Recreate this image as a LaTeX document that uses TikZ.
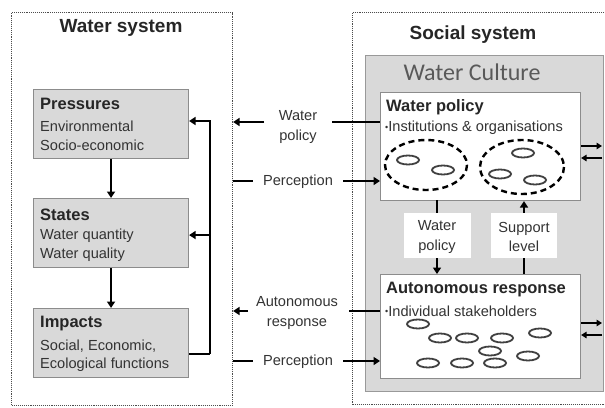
\documentclass[tikz,border=0pt]{standalone}
\usepackage{fontspec}
\setmainfont{Liberation Sans}
\newfontfamily\culturefont{Carlito}
\usetikzlibrary{arrows.meta}
\definecolor{boxgray}{HTML}{D9D9D9}
\definecolor{edgegray}{HTML}{8C8C8C}
\definecolor{textgray}{HTML}{333333}
\begin{document}
\begin{tikzpicture}[x=1pt,y=-1pt,
  frame/.style={draw=black!70, densely dotted, line width=1.1pt, anchor=north west, inner sep=0},
  dpsbox/.style={draw=edgegray, fill=boxgray, line width=1.1pt, anchor=north west, inner sep=0,
                 minimum width=155, minimum height=69},
  whitebox/.style={draw=edgegray, fill=white, line width=1.1pt, anchor=north west, inner sep=0,
                 minimum width=200},
  title/.style={font=\fontsize{19}{22}\selectfont\bfseries, text=black!85, inner sep=0},
  head/.style={font=\fontsize{16.5}{19}\selectfont\bfseries, text=black!85, anchor=west, inner sep=0},
  body/.style={font=\fontsize{14.6}{17}\selectfont, text=textgray, anchor=west, inner sep=0},
  lbl/.style={font=\fontsize{14.6}{19.5}\selectfont, text=textgray, align=center, inner sep=0},
  flow/.style={line width=2.6pt, -{Triangle[length=6.5pt,width=8pt]}},
  plain/.style={line width=2.6pt},
  side/.style={line width=1.9pt, -{Triangle[length=5.5pt,width=6.5pt]}},
  actor/.style={draw=black!75, line width=1.8pt, x radius=11, y radius=4.5},
  group/.style={draw=black, line width=2.4pt, dash pattern=on 6pt off 4pt}
]
\useasboundingbox (0,0) rectangle (605,407);

% ---- water system (DPSIR chain) ----
\node[frame, minimum width=221, minimum height=393] (wsys) at (11,12) {};
\node[title] (wsys-t) at (121,28) {Water system};

\node[dpsbox] (press) at (33,89) {};
\node[head] (press-h) at (40,104) {Pressures};
\node[body] (press-a) at (40,126) {Environmental};
\node[body] (press-b) at (40,145) {Socio-economic};

\node[dpsbox] (state) at (33,198) {};
\node[head] (state-h) at (40,215) {States};
\node[body] (state-a) at (40,236) {Water quantity};
\node[body] (state-b) at (40,255) {Water quality};

\node[dpsbox] (impact) at (33,308) {};
\node[head] (impact-h) at (40,324) {Impacts};
\node[body] (impact-a) at (40,346) {Social, Economic,};
\node[body] (impact-b) at (40,365) {Ecological functions};

\draw[flow] (press.south) -- (state.north);
\draw[flow] (state.south) -- (impact.north);

% feedback from impacts to pressures and states
\coordinate (fb-bot) at (210,354);
\coordinate (fb-top) at (210,121);
\draw[plain] (impact.east |- fb-bot) -- (fb-bot);
\draw[flow] (fb-bot) -- (fb-top) -- (fb-top -| press.east);
\draw[flow] (fb-top |- state.center) ++(0,2) coordinate (fb-mid) -- (fb-mid -| state.east);

% ---- social system ----
\node[frame, minimum width=270, minimum height=392] (ssys) at (352,12) {};
\node[title] (ssys-t) at (473,35) {Social system};

\node[draw=black!40, fill=boxgray, line width=1.1pt, anchor=north west, inner sep=0,
      minimum width=238, minimum height=336] (cult) at (365,55) {};
\node[font=\culturefont\fontsize{24}{27}\selectfont, text=black!65, inner sep=0] (cult-t) at (472,72) {Water Culture};

% water policy
\node[whitebox, minimum height=108] (wp) at (380,92) {};
\node[head] (wp-h) at (386,107) {Water policy};
\node[body] (wp-b) at (385,128) {\fontsize{9}{10}\selectfont\raisebox{1.6pt}{•}\fontsize{14.6}{17}\selectfont Institutions \& organisations};
\draw[group] (426,165) ellipse[x radius=41, y radius=25];
\draw[group] (522,167) ellipse[x radius=42, y radius=27];
\draw[actor] (408,160) ellipse[];
\draw[actor] (443,170) ellipse[];
\draw[actor] (523,153) ellipse[];
\draw[actor] (500,174) ellipse[];
\draw[actor] (535,180) ellipse[];

% autonomous response
\node[whitebox, minimum height=104] (ar) at (380,274) {};
\node[head] (ar-h) at (386,290) {Autonomous response};
\node[body] (ar-b) at (385,311) {\fontsize{9}{10}\selectfont\raisebox{1.6pt}{•}\fontsize{14.6}{17}\selectfont Individual stakeholders};
\foreach \px/\py in {418/324, 440/338, 467/338, 502/338, 540/333, 490/351,
                      428/363, 462/363, 495/363, 528/356}
  \draw[actor] (\px,\py) ellipse[];

% links inside the water culture
\coordinate (wp-down) at (437,200);
\coordinate (sl-up) at (524,274);
\draw[flow] (wp-down) -- (wp-down |- ar.north);
\draw[flow] (sl-up) -- (sl-up |- wp.south);
\node[fill=white, minimum width=67, minimum height=45, inner sep=0] (mid-wp) at (437,235) {};
\node[lbl] (mid-wp-t) at (437,237) {Water\\policy};
\node[fill=white, minimum width=66, minimum height=45, inner sep=0] (mid-sl) at (524,235) {};
\node[lbl] (mid-sl-t) at (524,237) {Support\\level};

% exchanges with other water cultures
\coordinate (out-a) at (602,146);
\coordinate (in-a) at (602,158);
\coordinate (out-b) at (602,323);
\coordinate (in-b) at (602,335);
\draw[side] (out-a -| wp.east) -- (out-a);
\draw[side] (in-a) -- (in-a -| wp.east);
\draw[side] (out-b -| ar.east) -- (out-b);
\draw[side] (in-b) -- (in-b -| ar.east);

% ---- interactions between the two systems ----
\node[lbl] (l-wp) at (298,127) {Water\\policy};
\node[lbl] (l-p1) at (298,182) {Perception};
\node[lbl] (l-ar) at (297,313) {Autonomous\\response};
\node[lbl] (l-p2) at (298,362) {Perception};

\coordinate (wp-tail) at (332,122);
\coordinate (wp-head) at (264,122);
\draw[plain] (wp-tail) -- (wp-tail -| wp.west);
\draw[flow] (wp-head) -- (wp-head -| wsys.east);

\coordinate (p1-a) at (253,181);
\coordinate (p1-b) at (343,181);
\draw[plain] (p1-a -| wsys.east) -- (p1-a);
\draw[flow] (p1-b) -- (p1-b -| wp.west);

\coordinate (ar-tail) at (349,311);
\coordinate (ar-head) at (248,311);
\draw[plain] (ar-tail) -- (ar-tail -| ar.west);
\draw[flow] (ar-head) -- (ar-head -| wsys.east);

\coordinate (p2-a) at (253,361);
\coordinate (p2-b) at (343,361);
\draw[plain] (p2-a -| wsys.east) -- (p2-a);
\draw[flow] (p2-b) -- (p2-b -| ar.west);
\end{tikzpicture}
\end{document}
